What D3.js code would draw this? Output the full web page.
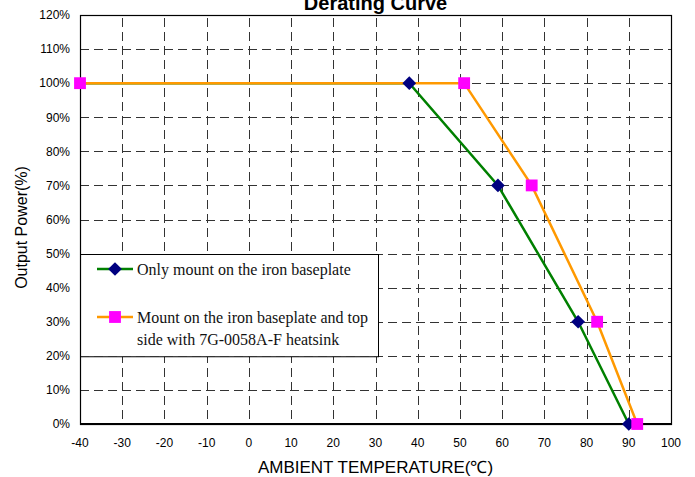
<!DOCTYPE html>
<html>
<head>
<meta charset="utf-8">
<script src="https://cdn.jsdelivr.net/npm/d3@7"></script>
<style>
  body { margin: 0; background: #fff; }
  svg { display: block; }
</style>
</head>
<body>
<svg id="chart" width="695" height="477"></svg>
<script>
// data
const baseTemps = [-40, 38, 59, 78, 90];
const basePower = [100, 100, 70, 30, 0];
const sinkTemps = [-40, 51, 67, 82.5, 92];
const sinkPower = [100, 100, 70, 30, 0];

const xTicks = [-40, -30, -20, -10, 0, 10, 20, 30, 40, 50, 60, 70, 80, 90, 100];
const yTicks = [0, 10, 20, 30, 40, 50, 60, 70, 80, 90, 100, 110, 120];

const legendLabels = [
  ["Only mount on the iron baseplate"],
  ["Mount on the iron baseplate and top", "side with 7G-0058A-F heatsink"]
];

const svg = d3.select("#chart");

const plotL = 80, plotR = 671, plotT = 15, plotB = 424;

const x = d3.scaleLinear().domain([-40, 100]).range([plotL, plotR]);
const y = d3.scaleLinear().domain([0, 120]).range([plotB, plotT]);

const baseData = baseTemps.map((t, i) => ({ t, p: basePower[i] }));
const sinkData = sinkTemps.map((t, i) => ({ t, p: sinkPower[i] }));

/* ---- grid ---- */
const grid = svg.append("g").attr("stroke", "#333").attr("stroke-width", 1)
  .attr("stroke-dasharray", "9,5");

grid.selectAll("line.h")
  .data(yTicks.filter(d => d > 0 && d < 120))
  .join("line")
  .attr("x1", plotL).attr("x2", plotR)
  .attr("y1", d => Math.round(y(d)) + 0.5)
  .attr("y2", d => Math.round(y(d)) + 0.5);

grid.selectAll("line.v")
  .data(xTicks.filter(d => d > -40 && d < 100))
  .join("line")
  .attr("x1", d => Math.round(x(d)) + 0.5)
  .attr("x2", d => Math.round(x(d)) + 0.5)
  .attr("y1", plotT + 3).attr("y2", plotB);

/* ---- legend box (under the lines) ---- */
const legendBox = { x0: plotL, x1: Math.round(x(30.5)), y0: y(50), y1: y(20) };
svg.append("rect")
  .attr("x", legendBox.x0 + 0.5)
  .attr("y", Math.round(legendBox.y0) + 0.5)
  .attr("width", legendBox.x1 - legendBox.x0)
  .attr("height", legendBox.y1 - legendBox.y0)
  .attr("fill", "#fff")
  .attr("stroke", "#000");

/* ---- frame ---- */
svg.append("rect")
  .attr("x", plotL + 0.5).attr("y", plotT + 0.5)
  .attr("width", plotR - plotL).attr("height", plotB - plotT)
  .attr("fill", "none").attr("stroke", "#000").attr("stroke-width", 1.2);

svg.append("line")
  .attr("x1", plotL).attr("x2", plotR)
  .attr("y1", plotB).attr("y2", plotB)
  .attr("stroke", "#000").attr("stroke-width", 2);

/* ---- series ---- */
const line = d3.line().x(d => x(d.t)).y(d => y(d.p));

svg.append("path").datum(baseData)
  .attr("d", line).attr("fill", "none")
  .attr("stroke", "#008000").attr("stroke-width", 2.5);

svg.append("path").datum(sinkData)
  .attr("d", line).attr("fill", "none")
  .attr("stroke", "#FF9900").attr("stroke-width", 2.5);

const diamond = d3.symbol().type(d3.symbolDiamond2).size(120);
const square = d3.symbol().type(d3.symbolSquare).size(140);

svg.selectAll("path.dia")
  .data(baseData.slice(1))
  .join("path")
  .attr("class", "dia")
  .attr("transform", d => `translate(${x(d.t)},${y(d.p)})`)
  .attr("d", diamond)
  .attr("fill", "#000080");

svg.selectAll("path.sq")
  .data(sinkData)
  .join("path")
  .attr("class", "sq")
  .attr("transform", d => `translate(${x(d.t)},${y(d.p)})`)
  .attr("d", square)
  .attr("fill", "#FF00FF");

/* ---- legend entries ---- */
const legendRows = [
  { y: 269, color: "#008000", sym: diamond, fill: "#000080" },
  { y: 317, color: "#FF9900", sym: square, fill: "#FF00FF" }
];

legendRows.forEach((r, i) => {
  const g = svg.append("g");
  g.append("line")
    .attr("x1", 97).attr("x2", 133)
    .attr("y1", r.y).attr("y2", r.y)
    .attr("stroke", r.color).attr("stroke-width", 2.5);
  g.append("path")
    .attr("transform", `translate(115,${r.y})`)
    .attr("d", r.sym)
    .attr("fill", r.fill);
  const t = g.append("text")
    .attr("x", 137).attr("y", r.y + 6)
    .attr("font-family", "'Liberation Serif', 'Times New Roman', serif")
    .attr("font-size", 16)
    .attr("fill", "#111");
  legendLabels[i].forEach((s, j) => {
    t.append("tspan").attr("x", 137).attr("dy", j === 0 ? 0 : 22).text(s);
  });
});

/* ---- tick labels ---- */
svg.append("g")
  .selectAll("text")
  .data(yTicks)
  .join("text")
  .attr("x", 70)
  .attr("y", d => y(d))
  .attr("dy", "0.36em")
  .attr("text-anchor", "end")
  .attr("font-family", "Arial, 'Liberation Sans', sans-serif")
  .attr("font-size", 12)
  .text(d => d + "%");

svg.append("g")
  .selectAll("text")
  .data(xTicks)
  .join("text")
  .attr("x", d => x(d))
  .attr("y", 447)
  .attr("text-anchor", "middle")
  .attr("font-family", "Arial, 'Liberation Sans', sans-serif")
  .attr("font-size", 12)
  .text(d => d);

/* ---- titles ---- */
svg.append("text")
  .attr("x", (plotL + plotR) / 2)
  .attr("y", 10)
  .attr("text-anchor", "middle")
  .attr("font-family", "Arial, 'Liberation Sans', sans-serif")
  .attr("font-weight", "bold")
  .attr("font-size", 20)
  .text("Derating Curve");

svg.append("text")
  .attr("x", (plotL + plotR) / 2)
  .attr("y", 473)
  .attr("text-anchor", "middle")
  .attr("font-family", "Arial, 'Liberation Sans', sans-serif")
  .attr("font-size", 17)
  .text("AMBIENT TEMPERATURE(℃)");

svg.append("text")
  .attr("transform", `translate(27,${(plotT + plotB) / 2 + 8}) rotate(-90)`)
  .attr("text-anchor", "middle")
  .attr("font-family", "Arial, 'Liberation Sans', sans-serif")
  .attr("font-size", 16)
  .text("Output Power(%)");
</script>
</body>
</html>
